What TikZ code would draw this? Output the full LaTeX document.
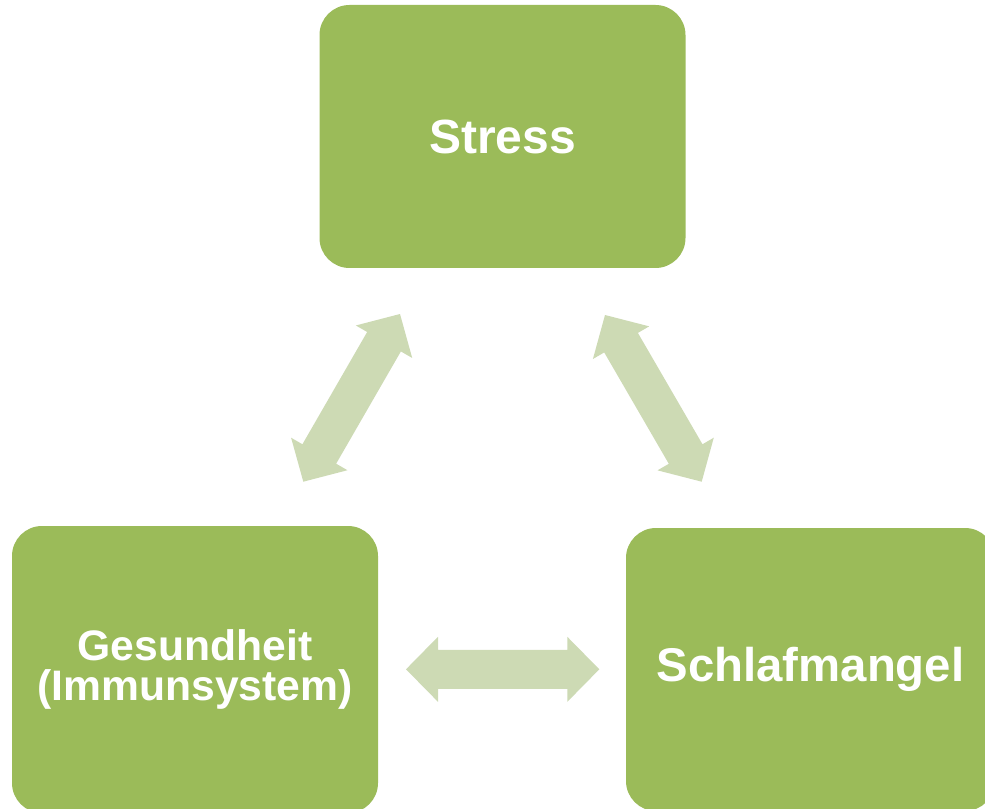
\documentclass[tikz,border=0pt]{standalone}
\usepackage{fontspec}
\setmainfont{Liberation Sans}
\usetikzlibrary{calc}
\definecolor{boxgreen}{RGB}{155,187,89}
\definecolor{arrowgreen}{RGB}{205,218,180}
\tikzset{
  greenbox/.style={fill=boxgreen, draw=none, rounded corners=22.5pt, inner sep=0pt,
    text=white, font=\bfseries, align=center},
  arrowfill/.style={fill=arrowgreen, draw=none}
}
\newcommand\dblblockarrow[2]{%
  \fill[arrowfill] (#1)
    -- ($(#1)!24pt!(#2)!24.4pt!90:(#2)$)
    -- ($(#1)!24pt!(#2)!14.6pt!90:(#2)$)
    -- ($(#2)!24pt!(#1)!14.6pt!-90:(#1)$)
    -- ($(#2)!24pt!(#1)!24.4pt!-90:(#1)$)
    -- (#2)
    -- ($(#2)!24pt!(#1)!24.4pt!90:(#1)$)
    -- ($(#2)!24pt!(#1)!14.6pt!90:(#1)$)
    -- ($(#1)!24pt!(#2)!14.6pt!-90:(#2)$)
    -- ($(#1)!24pt!(#2)!24.4pt!-90:(#2)$)
    -- cycle;}
\begin{document}
\begin{tikzpicture}[x=0.75pt,y=-0.75pt]
  \useasboundingbox (0,0) rectangle (985,809);
  \begin{scope}
  \clip (0,0) rectangle (985,809);
  \node[greenbox, minimum width=274.5pt, minimum height=197.25pt,
        font=\bfseries\fontsize{36pt}{43pt}\selectfont] (stress) at (502.5,136.5) {Stress};
  \node[greenbox, minimum width=274.5pt, minimum height=215.25pt,
        font=\bfseries\fontsize{32pt}{30.5pt}\selectfont] (gesund) at (195,669.5) {Gesundheit\\(Immunsystem)};
  \node[greenbox, minimum width=276.75pt, minimum height=212.25pt,
        font=\bfseries\fontsize{35.5pt}{43pt}\selectfont] (schlaf) at (810.5,669.5) {Schlafmangel};
  \end{scope}
  % arrow end points
  \coordinate (a1s) at (303.3,481.7);
  \coordinate (a1e) at (400,314);
  \coordinate (a2s) at (605,315);
  \coordinate (a2e) at (701.7,481.7);
  \coordinate (a3s) at (406,669.3);
  \coordinate (a3e) at (599.3,669.3);
  \dblblockarrow{a1s}{a1e}
  \dblblockarrow{a2s}{a2e}
  \dblblockarrow{a3s}{a3e}
\end{tikzpicture}
\end{document}
